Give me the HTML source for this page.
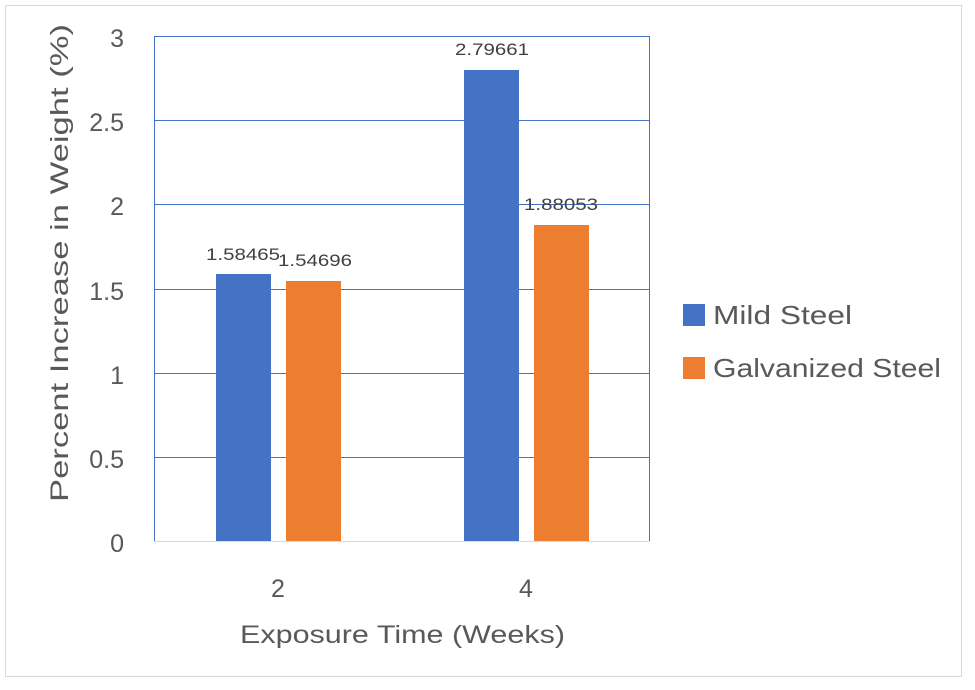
<!DOCTYPE html>
<html><head><meta charset="utf-8"><style>html,body{margin:0;padding:0;background:#fff}</style></head>
<body>
<svg width="975" height="685" xmlns="http://www.w3.org/2000/svg" font-family="Liberation Sans, sans-serif">
<rect x="0" y="0" width="975" height="685" fill="#fff"/>
<rect x="5.5" y="5.5" width="956" height="671" fill="none" stroke="#d9d9d9" stroke-width="1"/>
<g stroke="#4472c4" stroke-width="1">
<line x1="154" y1="120.5" x2="650" y2="120.5"/>
<line x1="154" y1="204.5" x2="650" y2="204.5"/>
<line x1="154" y1="289.5" x2="650" y2="289.5"/>
<line x1="154" y1="373.5" x2="650" y2="373.5"/>
<line x1="154" y1="457.5" x2="650" y2="457.5"/>
<rect x="154.5" y="36.5" width="495" height="505" fill="none"/>
</g>
<rect x="216" y="274" width="55" height="267" fill="#4472c4"/>
<rect x="286" y="281" width="55" height="260" fill="#ed7d31"/>
<rect x="464" y="70" width="55" height="471" fill="#4472c4"/>
<rect x="534" y="225" width="55" height="316" fill="#ed7d31"/>
<line x1="154" y1="541.5" x2="650" y2="541.5" stroke="#d9d9d9"/>
<g font-size="17" fill="#404040">
<text x="206" y="260" textLength="74" lengthAdjust="spacingAndGlyphs">1.58465</text>
<text x="278" y="266" textLength="74" lengthAdjust="spacingAndGlyphs">1.54696</text>
<text x="455" y="55" textLength="74" lengthAdjust="spacingAndGlyphs">2.79661</text>
<text x="524" y="210" textLength="74" lengthAdjust="spacingAndGlyphs">1.88053</text>
</g>
<g font-size="25" fill="#595959" text-anchor="end">
<text x="124" y="47">3</text>
<text x="124" y="131">2.5</text>
<text x="124" y="215">2</text>
<text x="124" y="300">1.5</text>
<text x="124" y="384">1</text>
<text x="124" y="468">0.5</text>
<text x="124" y="552">0</text>
</g>
<g font-size="25" fill="#595959">
<text x="278" y="597" text-anchor="middle">2</text>
<text x="526" y="597" text-anchor="middle">4</text>
<text x="240" y="643" textLength="325" lengthAdjust="spacingAndGlyphs">Exposure Time (Weeks)</text>
<text transform="translate(68,502) rotate(-90)" textLength="478" lengthAdjust="spacingAndGlyphs">Percent Increase in Weight (%)</text>
</g>
<rect x="683" y="304" width="22" height="22" fill="#4472c4"/>
<rect x="683" y="357" width="22" height="22" fill="#ed7d31"/>
<g font-size="26" fill="#595959">
<text x="713" y="324" textLength="139" lengthAdjust="spacingAndGlyphs">Mild Steel</text>
<text x="713" y="377" textLength="228" lengthAdjust="spacingAndGlyphs">Galvanized Steel</text>
</g>
</svg>
</body></html>
